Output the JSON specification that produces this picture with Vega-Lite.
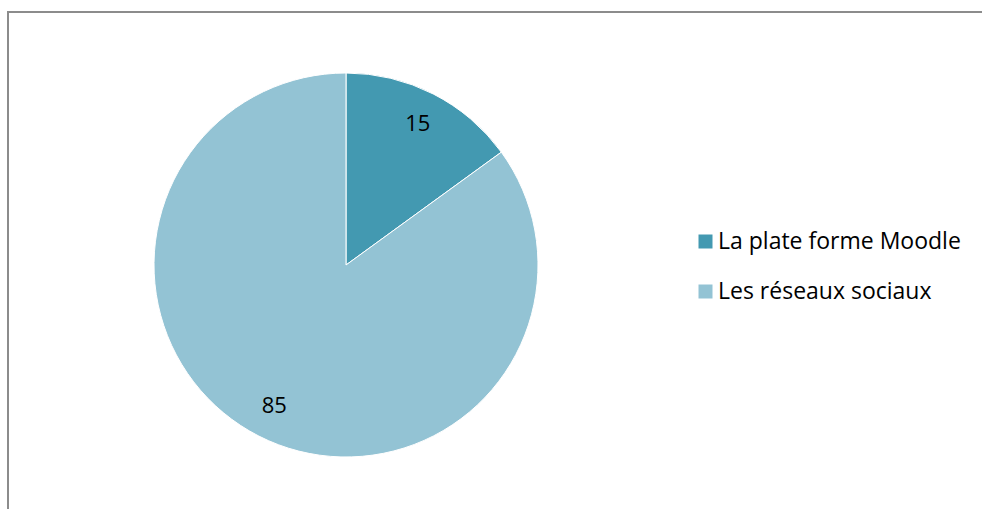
{
  "$schema": "https://vega.github.io/schema/vega-lite/v6.json",
  "width": 982,
  "height": 509,
  "autosize": {"type": "fit", "contains": "padding"},
  "padding": {"left": 8, "top": 12, "right": -8, "bottom": -8},
  "background": "white",
  "view": {"stroke": "#8c8c8c", "strokeWidth": 2},
  "config": {
    "view": {"stroke": "#8c8c8c", "strokeWidth": 2},
    "style": {"view": {"stroke": "#8c8c8c", "strokeWidth": 2}},
    "font": "Open Sans"
  },
  "data": {
    "values": [
      {"categorie": "La plate forme Moodle", "valeur": 15, "ordre": 1},
      {"categorie": "Les réseaux sociaux", "valeur": 85, "ordre": 2}
    ]
  },
  "encoding": {
    "theta": {"field": "valeur", "type": "quantitative", "stack": true},
    "order": {"field": "ordre", "type": "quantitative"}
  },
  "layer": [
    {
      "mark": {"type": "arc", "outerRadius": 192, "x": 338, "y": 253, "stroke": "white", "strokeWidth": 1},
      "encoding": {
        "color": {
          "field": "categorie",
          "type": "nominal",
          "scale": {"domain": ["La plate forme Moodle", "Les réseaux sociaux"], "range": ["#4399b1", "#93c3d4"]},
          "legend": {
            "title": null,
            "orient": "none",
            "legendX": 686,
            "legendY": 218,
            "symbolType": "square",
            "symbolSize": 196,
            "symbolStrokeWidth": 0,
            "labelFontSize": 23,
            "labelFont": "Open Sans",
            "labelColor": "#000000",
            "labelOffset": 1,
            "rowPadding": 26,
            "labelLimit": 400
          }
        }
      }
    },
    {
      "mark": {"type": "text", "radius": 158, "x": 338, "y": 253, "fontSize": 22, "font": "Open Sans", "color": "#000000"},
      "encoding": {"text": {"field": "valeur", "type": "quantitative"}}
    }
  ]
}
